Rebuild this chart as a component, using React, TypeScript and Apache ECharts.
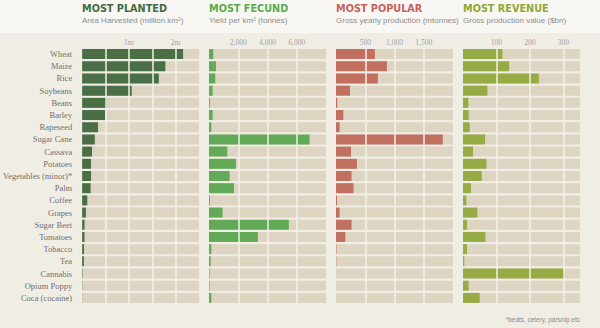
import React, { useEffect, useRef } from "react";
import * as echarts from "echarts";

const categories = [
  "Wheat", "Maize", "Rice", "Soybeans", "Beans", "Barley", "Rapeseed", "Sugar Cane",
  "Cassava", "Potatoes", "Vegetables (minor)*", "Palm", "Coffee", "Grapes", "Sugar Beet",
  "Tomatoes", "Tobacco", "Tea", "Cannabis", "Opium Poppy", "Coca (cocaine)",
];

// million km²
const planted = [2.16, 1.78, 1.64, 1.06, 0.53, 0.49, 0.34, 0.27, 0.21, 0.19, 0.19, 0.18, 0.11, 0.08, 0.05, 0.05, 0.04, 0.037, 0.01, 0.004, 0.002];
// tonnes per km²
const fecund = [293, 478, 430, 250, 60, 250, 160, 6880, 1250, 1840, 1410, 1710, 60, 930, 5460, 3340, 160, 115, 40, 40, 160];
// million tonnes
const popular = [665, 870, 716, 239, 22, 125, 62, 1825, 256, 358, 266, 300, 17, 62, 266, 160, 7, 5, 0, 0, 0];
// $bn
const revenue = [118, 138, 227, 73, 16, 17, 20, 66, 30, 70, 56, 24, 10, 43, 12, 67, 12, 4, 304, 17, 50];

const titles = ["MOST PLANTED", "MOST FECUND", "MOST POPULAR", "MOST REVENUE"];
const subtitles = [
  "Area Harvested (million km²)",
  "Yield per km² (tonnes)",
  "Gross yearly production (mtonnes)",
  "Gross production value ($bn)",
];
const tickLabels: Record<number, string>[] = [
  { 1: "1m", 2: "2m" },
  { 2000: "2,000", 4000: "4,000", 6000: "6,000" },
  { 500: "500", 1000: "1,000", 1500: "1,500" },
  { 100: "100", 200: "200", 300: "300" },
];
const axisMax = [2.5, 8000, 2000, 350];
const axisInterval = [0.5, 2000, 500, 100];
const footnote = "*beats, celery, parsnip etc";

export default function App() {
  const ref = useRef<HTMLDivElement>(null);
  useEffect(() => {
    if (!ref.current) return;
    const chart = echarts.init(ref.current, undefined, { renderer: "svg" });
    const lefts = [82, 209, 336, 463];
    const width = 117;
    const barColors = ["#4a6e45", "#63aa58", "#c1705f", "#97ab45"];
    const titleColors = ["#416b41", "#5aaa4a", "#c95f5a", "#8fa834"];
    const datasets = [planted, fecund, popular, revenue];

    const graphic: any[] = [
      { type: "rect", shape: { x: 0, y: 0, width: 600, height: 33 }, style: { fill: "#f8f7f3" }, silent: true, z: -1 },
    ];
    titles.forEach((t, i) => {
      graphic.push({
        type: "text", x: lefts[i], y: 8,
        style: { text: t, fill: titleColors[i], font: "bold 9.7px 'DejaVu Sans'", verticalAlign: "middle" },
      });
      graphic.push({
        type: "text", x: lefts[i], y: 20,
        style: { text: subtitles[i], fill: "#8c8c8c", font: "8px 'Liberation Sans'", verticalAlign: "middle" },
      });
    });
    graphic.push({
      type: "text", x: 580, y: 319,
      style: { text: footnote, fill: "#8c8c8c", font: "6.5px 'Liberation Sans'", align: "right", verticalAlign: "middle" },
    });

    const option: any = {
      animation: false,
      backgroundColor: "#f0ede5",
      graphic,
      grid: lefts.map((l) => ({ left: l, top: 48, width, height: 256 })),
      xAxis: lefts.map((_, i) => ({
        type: "value",
        gridIndex: i,
        position: "top",
        min: 0,
        max: axisMax[i],
        interval: axisInterval[i],
        z: 10,
        axisLine: { show: false },
        axisTick: { show: false },
        axisLabel: {
          margin: 2,
          color: "#a3a3a3",
          fontFamily: "'Liberation Serif'",
          fontSize: 7.5,
          formatter: (v: number) => tickLabels[i][Math.round(v * 10) / 10] ?? "",
        },
        splitLine: {
          show: true,
          showMinLine: false,
          showMaxLine: false,
          lineStyle: { color: "#f3f0e9", width: 1.5 },
        },
      })),
      yAxis: lefts.map((_, i) => ({
        type: "category",
        gridIndex: i,
        inverse: true,
        data: categories,
        axisLine: { show: false },
        axisTick: { show: false },
        splitLine: { show: false },
        axisLabel: {
          show: i === 0,
          margin: 10,
          color: "#707070",
          fontFamily: "'Liberation Serif'",
          fontSize: 8.5,
        },
      })),
      series: datasets.map((d, i) => ({
        type: "bar",
        xAxisIndex: i,
        yAxisIndex: i,
        data: d,
        barWidth: 10,
        itemStyle: { color: barColors[i] },
        showBackground: true,
        backgroundStyle: { color: "#ddd5c2" },
      })),
    };
    chart.setOption(option);
    return () => chart.dispose();
  }, []);
  return <div ref={ref} style={{ position: "fixed", left: 0, top: 0, width: 600, height: 328 }} />;
}
